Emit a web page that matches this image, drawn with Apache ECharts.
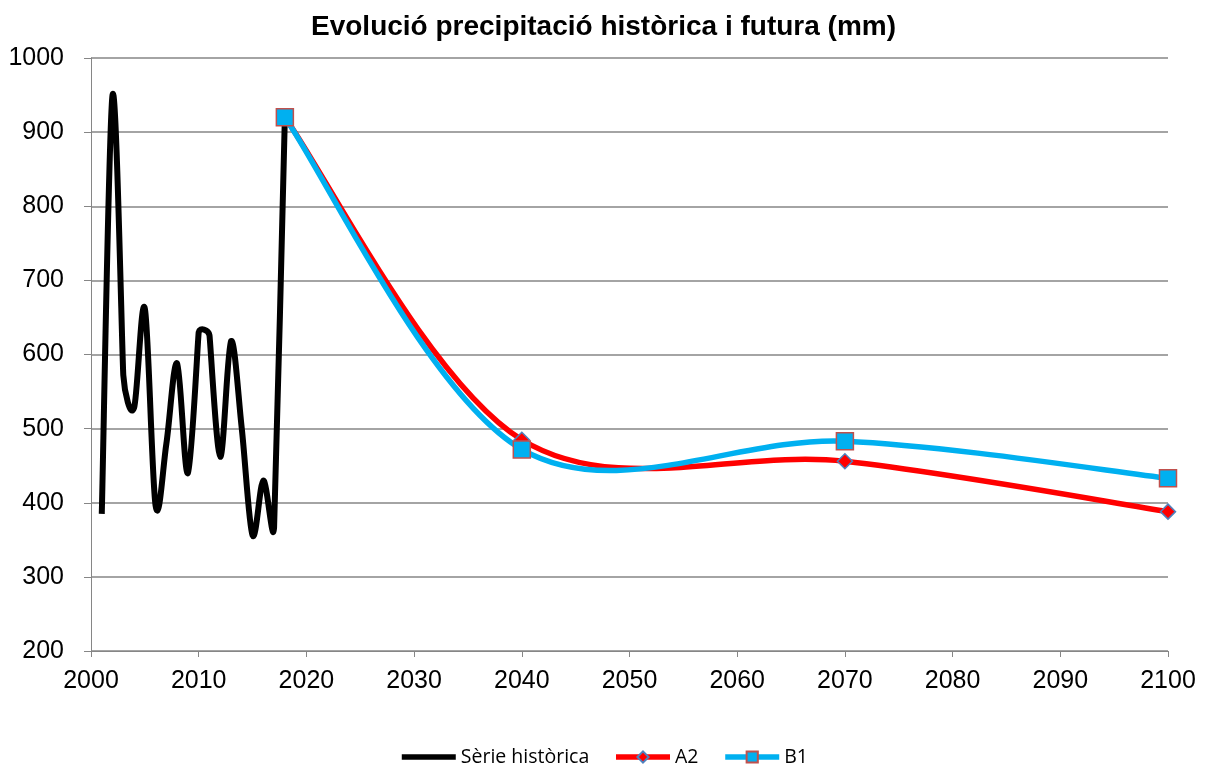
<!DOCTYPE html>
<html>
<head>
<meta charset="utf-8">
<script src="https://cdn.jsdelivr.net/npm/echarts@6/dist/echarts.min.js"></script>
<style>
  html, body { margin: 0; padding: 0; background: #fff; }
  #chart { width: 1207px; height: 767px; }
</style>
</head>
<body>
<div id="chart"></div>
<script>
// Observed annual precipitation (mm)
const histYears = [2001, 2002, 2003, 2004, 2005, 2006, 2007, 2008, 2009, 2010, 2011, 2012, 2013, 2014, 2015, 2016, 2017, 2018];
const histValues = [385, 950, 572, 528, 662, 396, 480, 588, 440, 630, 626, 462, 618, 500, 356, 430, 367, 920];

// Scenario projections (mm)
const scenYears = [2018, 2040, 2070, 2100];
const a2Values = [920, 485, 456, 388];
const b1Values = [920, 472, 483, 433];

const xTicks = { min: 2000, max: 2100, step: 10 };
const yTicks = { min: 200, max: 1000, step: 100 };

const pairs = (xs, ys) => xs.map((x, i) => [x, ys[i]]);

const dist = (a, b) => Math.hypot(b[0] - a[0], b[1] - a[1]);

// Tangent offset at point i of a cardinal spline; the offset is shortened
// when a neighbouring segment is short so the curve does not loop back.
function tangent(p, i) {
  const p0 = p[Math.max(i - 1, 0)];
  const p1 = p[i];
  const p2 = p[Math.min(i + 1, p.length - 1)];
  let f = 1 / 6;
  const d01 = dist(p0, p1), d12 = dist(p1, p2), d02 = dist(p0, p2);
  if (i > 0 && i < p.length - 1 && d02 > 0) {
    const m = Math.min(d01, d12);
    if (d02 / 6 >= m / 2) f = m / (2 * d02);
  }
  return [(p2[0] - p0[0]) * f, (p2[1] - p0[1]) * f];
}

// Smooth curve through the data points, drawn as one custom path.
function smoothCurve(name, points, color, width, z) {
  return {
    name: name,
    type: 'custom',
    data: points,
    z: z,
    silent: true,
    renderItem: function (params, api) {
      if (params.dataIndex !== 0) return null;
      const p = points.map(d => api.coord(d));
      const t = p.map((_, i) => tangent(p, i));
      let path = 'M' + p[0][0] + ',' + p[0][1];
      for (let i = 0; i < p.length - 1; i++) {
        const c1 = [p[i][0] + t[i][0], p[i][1] + t[i][1]];
        const c2 = [p[i + 1][0] - t[i + 1][0], p[i + 1][1] - t[i + 1][1]];
        path += ' C' + c1[0] + ',' + c1[1] + ' ' + c2[0] + ',' + c2[1] + ' ' + p[i + 1][0] + ',' + p[i + 1][1];
      }
      return {
        type: 'path',
        shape: { pathData: path },
        style: { fill: null, stroke: color, lineWidth: width, lineJoin: 'round', lineCap: 'butt' }
      };
    }
  };
}

// Marker-only series carrying the legend entry; its own line is hidden.
function markerSeries(name, points, color, symbol, size, border, z) {
  return {
    name: name,
    type: 'line',
    data: points,
    symbol: symbol,
    symbolSize: size,
    lineStyle: { color: color, width: 5, opacity: 0 },
    itemStyle: { color: color, borderColor: border, borderWidth: 1.5 },
    z: z
  };
}

const font = 'Liberation Sans, Arial, sans-serif';
const chart = echarts.init(document.getElementById('chart'));
chart.setOption({
  animation: false,
  title: {
    text: 'Evolució precipitació històrica i futura (mm)',
    left: 'center',
    top: 8,
    textStyle: { fontFamily: font, fontSize: 28, fontWeight: 'bold', color: '#000' }
  },
  legend: {
    top: 742,
    left: 'center',
    itemWidth: 54,
    itemHeight: 14,
    itemGap: 24,
    textStyle: { fontFamily: 'Open Sans, sans-serif', fontSize: 19.5, color: '#000' },
    data: [
      {
        name: 'Sèrie històrica',
        itemStyle: { opacity: 0 },
        lineStyle: { color: '#000', width: 5.5, opacity: 1 }
      },
      { name: 'A2', lineStyle: { color: '#ff0000', width: 5.5, opacity: 1 } },
      { name: 'B1', lineStyle: { color: '#00b0f0', width: 5.5, opacity: 1 } }
    ]
  },
  grid: { left: 91, right: 39, top: 58, bottom: 116 },
  xAxis: {
    type: 'value',
    min: xTicks.min, max: xTicks.max, interval: xTicks.step,
    axisLine: { lineStyle: { color: '#868686', width: 1 } },
    axisTick: { show: true, length: 6, lineStyle: { color: '#868686' } },
    axisLabel: { fontFamily: font, fontSize: 25, color: '#000', margin: 18, formatter: v => String(v) },
    splitLine: { show: false }
  },
  yAxis: {
    type: 'value',
    min: yTicks.min, max: yTicks.max, interval: yTicks.step,
    axisLine: { show: true, lineStyle: { color: '#868686', width: 1 } },
    axisTick: { show: true, length: 7, lineStyle: { color: '#868686' } },
    axisLabel: { fontFamily: font, fontSize: 25, color: '#000', margin: 27, formatter: v => String(v) },
    splitLine: { lineStyle: { color: '#868686', width: 1.5 } }
  },
  series: [
    smoothCurve('hist-curve', pairs(histYears, histValues), '#000', 6, 3),
    smoothCurve('a2-curve', pairs(scenYears, a2Values), '#ff0000', 5.5, 4),
    smoothCurve('b1-curve', pairs(scenYears, b1Values), '#00b0f0', 5.5, 5),
    {
      name: 'Sèrie històrica',
      type: 'line',
      data: pairs(histYears, histValues),
      symbol: 'circle',
      showSymbol: false,
      lineStyle: { color: '#000', width: 5, opacity: 0 },
      itemStyle: { color: '#000' },
      z: 2
    },
    markerSeries('A2', pairs(scenYears, a2Values), '#ff0000', 'diamond', 15, '#4f81bd', 6),
    markerSeries('B1', pairs(scenYears, b1Values), '#00b0f0', 'rect', 17, '#c0504d', 7)
  ]
});
</script>
</body>
</html>
